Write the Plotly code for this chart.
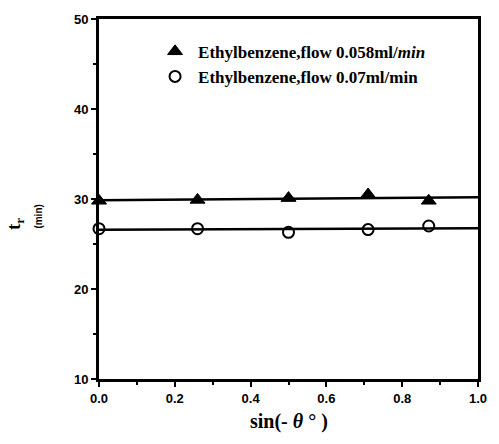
import numpy as np
import plotly.graph_objects as go

# sin(-theta) positions for 0, 15, 30, 45, 60 degrees
x_sin = [0.0, 0.26, 0.5, 0.71, 0.87]
# retention time (min)
tr_flow_058 = [29.8, 29.9, 30.1, 30.5, 29.8]
tr_flow_07 = [26.7, 26.7, 26.3, 26.6, 27.0]

x_ticks = [0.0, 0.2, 0.4, 0.6, 0.8, 1.0]
y_ticks = [10, 20, 30, 40, 50]

name_058 = "Ethylbenzene,flow 0.058ml/<i>min</i>"
name_07 = "Ethylbenzene,flow 0.07ml/min"

fig = go.Figure()

# least-squares lines over the full x range
x_line = np.array([0.0, 1.0])
for ys in (tr_flow_058, tr_flow_07):
    k, b = np.polyfit(x_sin, ys, 1)
    fig.add_trace(go.Scatter(x=x_line, y=k * x_line + b, mode="lines",
                             line=dict(color="black", width=2.5),
                             showlegend=False, hoverinfo="skip"))

fig.add_trace(go.Scatter(x=x_sin, y=tr_flow_058, mode="markers", name=name_058,
                         marker=dict(symbol="triangle-up", size=13, color="black",
                                     line=dict(color="black", width=1)),
                         cliponaxis=False))
fig.add_trace(go.Scatter(x=x_sin, y=tr_flow_07, mode="markers", name=name_07,
                         marker=dict(symbol="circle-open", size=11, color="black",
                                     line=dict(color="black", width=2)),
                         cliponaxis=False))

tick_font = dict(family="Liberation Sans", size=13, color="black", weight="bold")

fig.update_xaxes(range=[0, 1.0], tickvals=x_ticks,
                 ticktext=[f"{v:.1f}" for v in x_ticks],
                 showline=True, linecolor="black", linewidth=3, mirror=True,
                 ticks="outside", ticklen=5, tickwidth=2, tickcolor="black",
                 minor=dict(dtick=0.1, ticks="outside", ticklen=3, tickwidth=1.5,
                            tickcolor="black"),
                 showgrid=False, zeroline=False, tickfont=tick_font)
fig.update_yaxes(range=[10, 50], tickvals=y_ticks,
                 showline=True, linecolor="black", linewidth=3, mirror=True,
                 ticks="outside", ticklen=5, tickwidth=2, tickcolor="black",
                 minor=dict(dtick=5, ticks="outside", ticklen=3, tickwidth=1.5,
                            tickcolor="black"),
                 showgrid=False, zeroline=False, tickfont=tick_font)

fig.add_annotation(text="sin(- <i>θ</i> ° )", xref="paper", yref="paper",
                   x=0.5, y=-0.08, xanchor="center", yanchor="top",
                   showarrow=False,
                   font=dict(family="Liberation Serif", size=20, color="black",
                             weight="bold"))
fig.add_annotation(text="t<sub>r</sub>", xref="paper", yref="paper",
                   x=-0.222, y=0.43, xanchor="center", yanchor="middle",
                   textangle=-90, showarrow=False,
                   font=dict(family="Liberation Serif", size=19, color="black",
                             weight="bold"))
fig.add_annotation(text="(min)", xref="paper", yref="paper",
                   x=-0.162, y=0.45, xanchor="center", yanchor="middle",
                   textangle=-90, showarrow=False,
                   font=dict(family="Liberation Sans", size=10, color="black",
                             weight="bold"))

fig.update_layout(
    width=499, height=444,
    margin=dict(l=99, r=13, t=13, b=65),
    paper_bgcolor="white", plot_bgcolor="white",
    legend=dict(x=0.14, y=0.959, xanchor="left", yanchor="top",
                bgcolor="rgba(0,0,0,0)", itemwidth=36,
                font=dict(family="Liberation Serif", size=17, color="black",
                          weight="bold")),
)

fig.write_html("out.html")
